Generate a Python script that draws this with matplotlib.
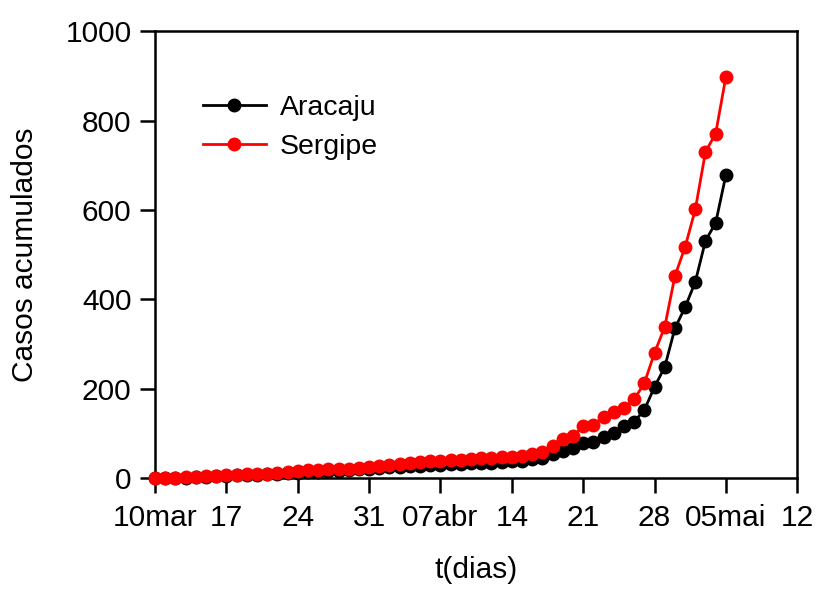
import numpy as np
import matplotlib
matplotlib.use("Agg")
import matplotlib.pyplot as plt

plt.rcParams['font.family'] = ['Liberation Sans', 'DejaVu Sans']

# dias desde 10 de marco
dias = np.arange(0, 57)

aracaju = [1, 1, 1, 1, 2, 3, 4, 5, 6, 6,
           7, 8, 9, 11, 12, 13, 14, 15, 16, 17,
           19, 21, 22, 24, 25, 26, 27, 29, 30, 31,
           32, 33, 33, 34, 35, 37, 39, 42, 45, 54,
           60, 66, 78, 81, 91, 100, 116, 126, 152, 204,
           248, 335, 382, 439, 531, 571, 678]

sergipe = [1, 1, 1, 2, 3, 4, 5, 6, 7, 8,
           9, 10, 12, 14, 16, 17, 18, 19, 20, 21,
           23, 25, 27, 29, 31, 33, 35, 37, 39, 40,
           41, 43, 44, 45, 46, 48, 50, 54, 59, 72,
           87, 93, 117, 119, 137, 148, 156, 176, 212, 280,
           338, 452, 517, 601, 730, 771, 898]

xticks = [0, 7, 14, 21, 28, 35, 42, 49, 56, 63]
xlabels = ['10mar', '17', '24', '31', '07abr', '14', '21', '28', '05mai', '12']

fig = plt.figure(figsize=(8.16, 5.89), dpi=100)
ax = fig.add_axes([0.19, 0.1885, 0.787, 0.7585])

ax.plot(dias, aracaju, '-o', color='black', lw=2, ms=9, label='Aracaju', clip_on=False, zorder=3)
ax.plot(dias, sergipe, '-o', color='red', lw=2, ms=9, label='Sergipe', clip_on=False, zorder=4)

ax.set_xlim(0, 63)
ax.set_ylim(0, 1000)
ax.set_xticks(xticks)
ax.set_xticklabels(xlabels)
ax.set_yticks([0, 200, 400, 600, 800, 1000])
ax.tick_params(direction='out', length=11, width=1.8, labelsize=21.5)
ax.tick_params(axis='x', pad=8)
ax.tick_params(axis='y', pad=6)
for s in ax.spines.values():
    s.set_linewidth(1.8)

ax.set_xlabel('t(dias)', fontsize=21.5, labelpad=17)
ax.set_ylabel('Casos acumulados', fontsize=21.5, labelpad=19)

ax.legend(loc='upper left', bbox_to_anchor=(0.035, 0.915), frameon=False, fontsize=20.5,
          handlelength=2.2, handletextpad=0.5, labelspacing=0.45)

fig.savefig('out.png', dpi=100)
